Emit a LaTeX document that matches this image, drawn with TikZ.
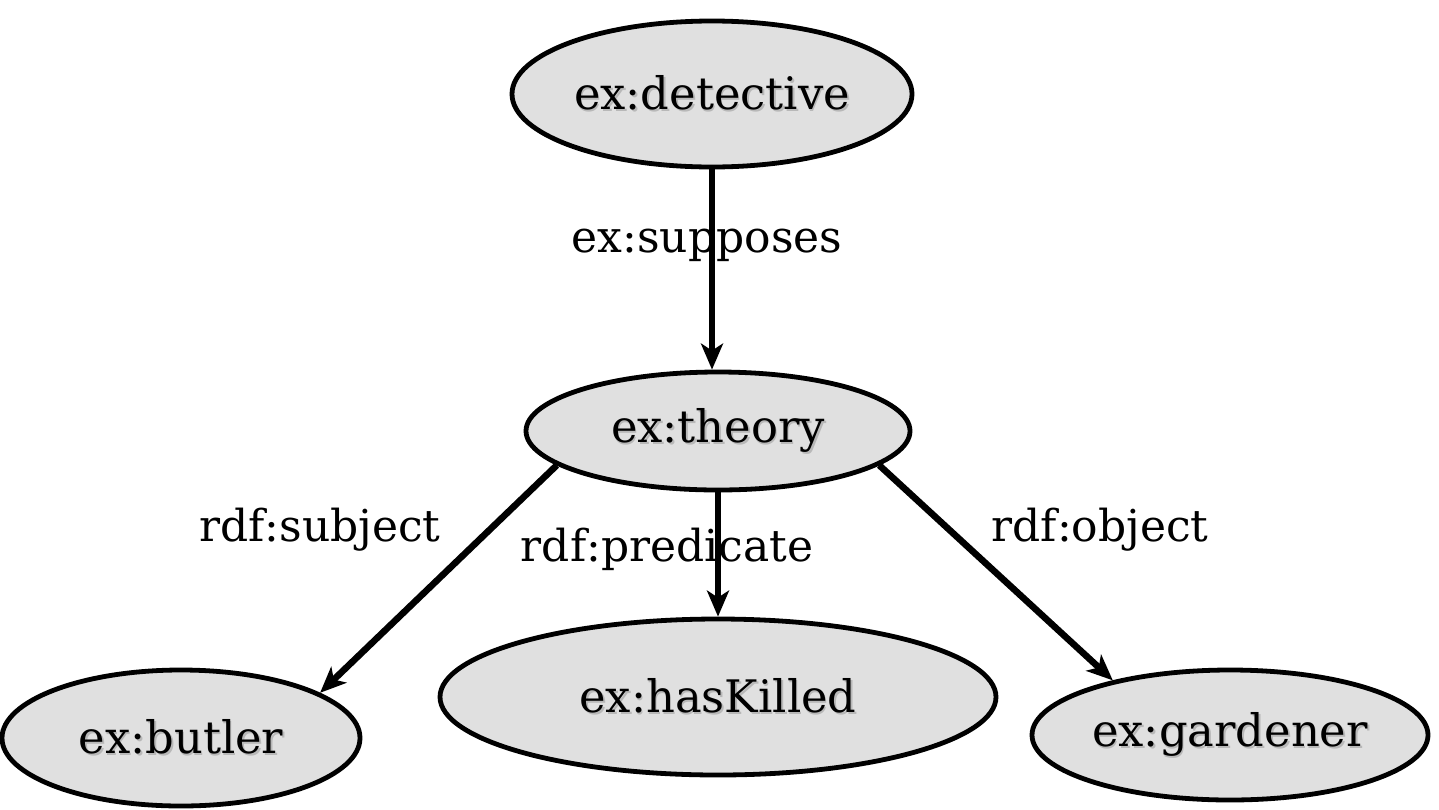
\documentclass[tikz,border=0pt]{standalone}
\usepackage{fontspec}
\setmainfont{DejaVu Serif}
\usetikzlibrary{shapes.geometric,arrows.meta}
\definecolor{nodefill}{HTML}{E0E0E0}
\newcommand\embossed[1]{\leavevmode\rlap{\raisebox{-1pt}{\kern0.8pt\textcolor{black!28}{#1}}}#1}
\tikzset{
  res/.style={ellipse, draw=black, line width=2.4pt, fill=nodefill, inner sep=0pt,
              font=\fontsize{22.4}{26}\selectfont},
  lbl/.style={inner sep=0pt, font=\fontsize{22}{26}\selectfont},
  arr/.style={line width=3.3pt, -{Stealth[length=13pt,width=11pt,inset=3.5pt]}},
}
\begin{document}
\begin{tikzpicture}[x=0.5pt,y=-0.5pt]
  \useasboundingbox (0,0) rectangle (1439,809);
  % resources
  \node[res, minimum width=200pt, minimum height=73pt] (det) at (712,94) {\embossed{ex:detective}};
  \node[res, minimum width=192pt, minimum height=59pt] (theory) at (718,431) {\embossed{ex:theory}};
  \node[res, minimum width=179pt, minimum height=68pt] (butler) at (181,738) {\embossed{ex:butler}};
  \node[res, minimum width=278pt, minimum height=78pt] (killed) at (718,697) {\embossed{ex:hasKilled}};
  \node[res, minimum width=198pt, minimum height=65pt] (gardener) at (1230,735) {\embossed{ex:gardener}};
  % properties
  \draw[arr] (det.south) -- (det.south |- theory.north);
  \draw[arr] (theory.192) -- (butler.18);
  \draw[arr] (theory.south) -- (killed.north);
  \draw[arr] (theory.348) -- (gardener.155);
  % property labels
  \node[lbl] (lsup) at (707,245) {ex:supposes};
  \node[lbl] (lsub) at (320,530) {rdf:subject};
  \node[lbl] (lpred) at (667,549) {rdf:predicate};
  \node[lbl] (lobj) at (1100,530) {rdf:object};
\end{tikzpicture}
\end{document}
